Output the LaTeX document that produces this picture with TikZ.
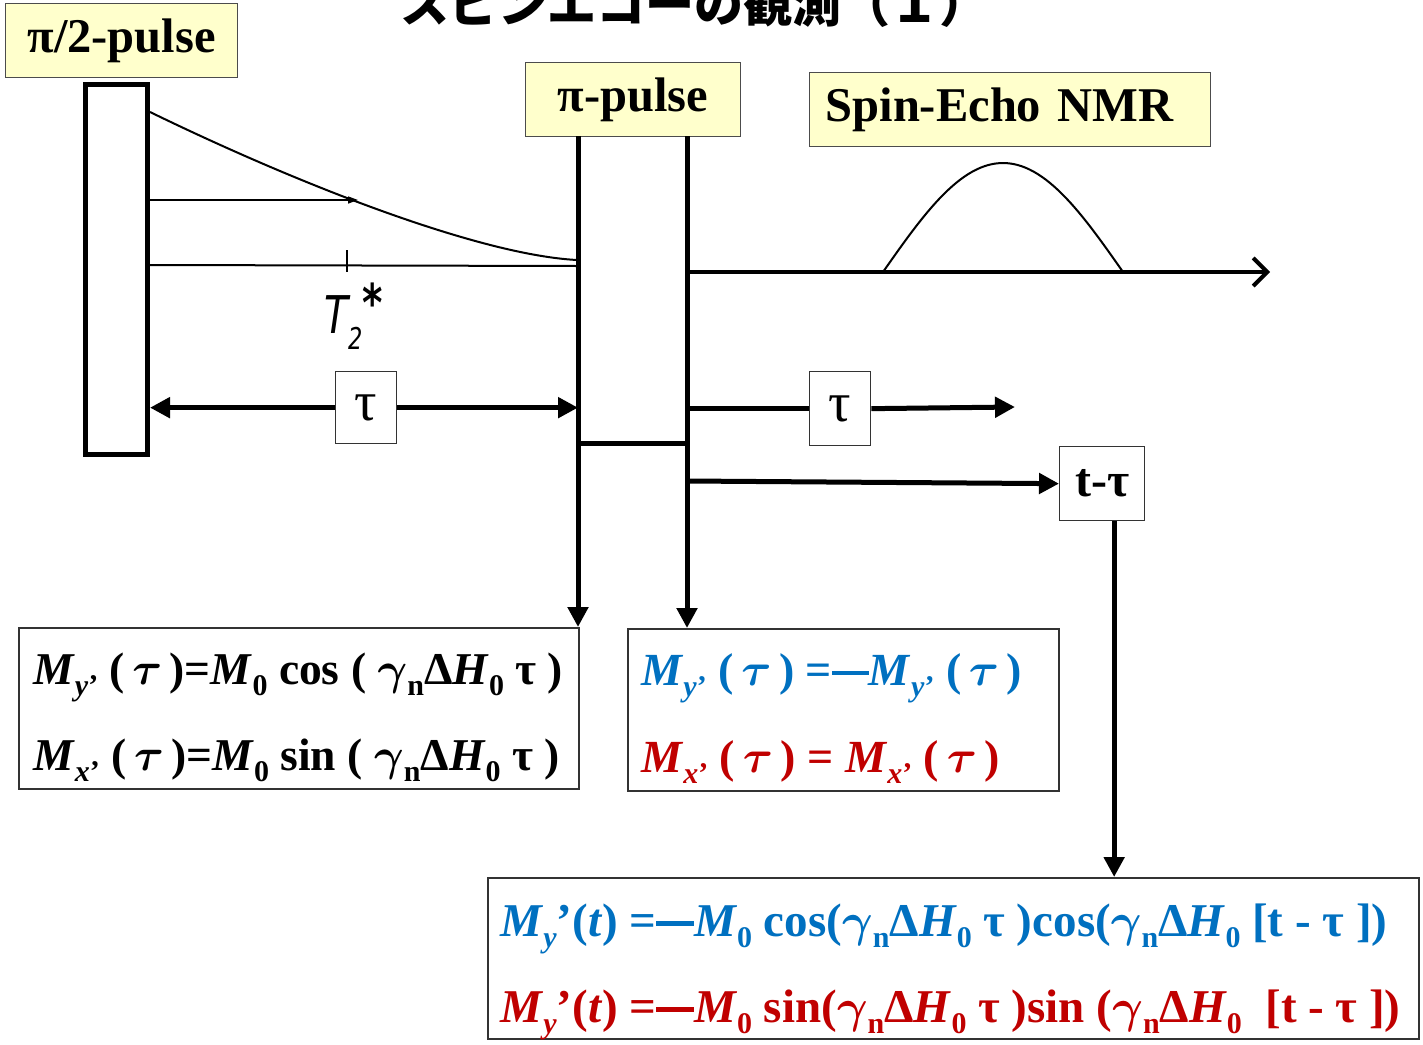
\RequirePackage{fix-cm}
\documentclass[tikz,border=0pt]{standalone}
\usepackage{amsmath}
\usepackage{fontspec}
\setmainfont{Liberation Serif}
\newfontfamily\cjk{Noto Sans CJK JP}
\newfontfamily\handfont{DejaVu Sans}[FakeStretch=0.75]
\usetikzlibrary{arrows.meta,positioning,calc}
\definecolor{labelyellow}{HTML}{FFFFCC}
\definecolor{eqblue}{HTML}{0070C0}
\definecolor{eqred}{HTML}{C00000}
% lowered index, primed magnetisation, long minus, italic greek
\newcommand{\lo}[1]{\raisebox{-0.25em}{\fontsize{30}{30}\selectfont #1}}
\newcommand{\itau}{$\boldsymbol{\tau}$}
\newcommand{\igam}{$\boldsymbol{\gamma}$}
\newcommand{\Mp}[1]{\textit{M}\lo{\textit{#1}’}}
\newcommand{\lmin}{\raisebox{0.22em}{\rule{0.8em}{0.09em}}}

\begin{document}
\begin{tikzpicture}[x=1pt, y=-1pt,
    lbl/.style={draw=black!70, line width=1.2pt, fill=labelyellow, inner sep=0pt, anchor=north west, font=\fontsize{48.5}{48.5}\selectfont\bfseries},
    tbox/.style={draw=black!80, line width=1.3pt, fill=white, inner sep=0pt, anchor=north west, font=\fontsize{56}{56}\selectfont},
    eqbox/.style={draw=black!80, line width=1.5pt, inner sep=0pt, anchor=north west},
    eqline/.style={anchor=base west, inner sep=0pt, font=\fontsize{46}{46}\selectfont\bfseries},
    heavy/.style={line width=5pt},
    arr/.style={-{Triangle[length=20pt,width=20pt]}, line width=5pt},
    thinline/.style={line width=2pt}
  ]
  \path[use as bounding box, fill=white] (0,0) rectangle (1423,1044);

  % title, cut at the top
  \node (title) [anchor=base, inner sep=0pt, font=\fontsize{49}{49}\selectfont\cjk\bfseries] at (694,22) {スピンエコーの観測（１）};

  % labels
  \node (halfpilbl) [lbl, minimum width=232pt, minimum height=74pt] at (5,3) {π/2-pulse};
  \node (pilbl) [lbl, minimum width=215pt, minimum height=74pt] at (525,62) {π-pulse};
  \node (echolbl) [lbl, minimum width=401pt, minimum height=74pt, text width=369pt, align=left] at (809,72) {Spin-Echo NMR};

  % pi/2 pulse and free induction decay
  \node (halfpi) [draw, line width=5pt, minimum width=62pt, minimum height=370pt, inner sep=0pt, anchor=north west] at (83,82) {};
  \draw[thinline] (150,112) .. controls (300,185) and (480,255) .. (577,260);
  \draw[thinline] (150,265) -- (577,266);
  \draw[line width=1.2pt] (347,250) -- (347,272);
  \draw[line width=1.5pt, -{Triangle[length=10pt,width=7pt]}] (150,200) -- (358,200);
  \node (ttwo) [anchor=base west, inner sep=0pt, font=\handfont\fontsize{52}{52}\selectfont\itshape] at (324,333)
    {T\raisebox{-0.32em}{\fontsize{30}{30}\selectfont 2}\raisebox{0.22em}{\bfseries *}};

  % pi pulse
  \coordinate (barL) at (578,136);
  \coordinate (barR) at (687,136);
  \coordinate (cross) at (0,443);
  \draw[heavy] (barL |- cross) -- (barR |- cross);

  % echo on the time axis
  \coordinate (axisstart) at (687,272);
  \coordinate (axisend) at (1270,272);
  \draw[line width=4pt, -{Straight Barb[length=14pt,width=28pt,line width=4pt]}] (axisstart) -- (axisend);
  \draw[thinline] plot[domain=-1:1, samples=60] ({1003+120*\x}, {272-109*cos(90*\x)});

  % delays
  \node (tauA) [tbox, minimum width=61pt, minimum height=72pt] at (335,371) {τ};
  \node (tauB) [tbox, minimum width=61pt, minimum height=74pt] at (809,371) {τ};
  \node (ttau) [tbox, minimum width=85pt, minimum height=74pt, font=\fontsize{48}{48}\selectfont\bfseries] at (1059,446) {t-τ};
  \coordinate (tauend) at (1015,407);
  \coordinate (ttaustart) at (687,481);
  \draw[arr] (tauA.west) -- (tauA.west -| halfpi.east);
  \draw[arr] (tauA.east) -- (tauA.east -| barL);
  \draw[heavy] (tauB.west -| barR) -- (tauB.west);
  \draw[arr] (tauB.east) -- (tauend);
  \draw[arr] (ttaustart) -- (ttau.west);

  % equations
  \node (eqL) [eqbox, minimum width=560pt, minimum height=161pt] at (18,627) {};
  \node (eqM) [eqbox, minimum width=431pt, minimum height=162pt] at (627,628) {};
  \node (eqB) [eqbox, minimum width=931pt, minimum height=161pt] at (487,877) {};

  \draw[arr] (barL) -- (barL |- eqL.north);
  \draw[arr] (barR) -- (barR |- eqM.north);
  \draw[arr] ([xshift=12pt]ttau.south) -- ([xshift=12pt]ttau.south |- eqB.north);

  \node (eqL1) [eqline, font=\fontsize{45.5}{45.5}\selectfont\bfseries] at (33,684) {\Mp{y} (\,\itau\,)=\textit{M}\lo{0} cos ( \igam\lo{n}Δ\textit{H}\lo{0} τ )};
  \node (eqL2) [eqline, font=\fontsize{45.5}{45.5}\selectfont\bfseries] at (33,770) {\Mp{x} (\,\itau\,)=\textit{M}\lo{0} sin ( \igam\lo{n}Δ\textit{H}\lo{0} τ )};
  \node (eqM1) [eqline, text=eqblue] at (641,685) {\Mp{y} (\,\itau\,)\ =\lmin\Mp{y} (\,\itau\,)};
  \node (eqM2) [eqline, text=eqred] at (641,772) {\Mp{x} (\,\itau\,)\ = \Mp{x} (\,\itau\,)};
  \node (eqB1) [eqline, text=eqblue, font=\fontsize{47}{47}\selectfont\bfseries] at (500,936)
    {\textit{M}\lo{\textit{y}}’(\textit{t}) =\lmin\textit{M}\lo{0} cos(\igam\lo{n}Δ\textit{H}\lo{0} τ )cos(\igam\lo{n}Δ\textit{H}\lo{0} [t - τ ])};
  \node (eqB2) [eqline, text=eqred, font=\fontsize{47}{47}\selectfont\bfseries] at (500,1022)
    {\textit{M}\lo{\textit{y}}’(\textit{t}) =\lmin\textit{M}\lo{0} sin(\igam\lo{n}Δ\textit{H}\lo{0} τ )sin (\igam\lo{n}Δ\textit{H}\lo{0} \ [t - τ ])};
\end{tikzpicture}
\end{document}
